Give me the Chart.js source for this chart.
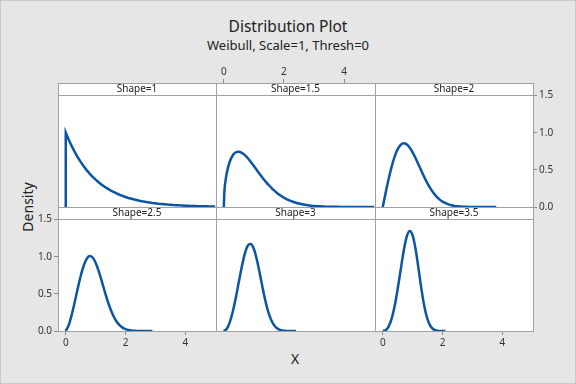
<!DOCTYPE html>
<html>
<head>
<meta charset="utf-8">
<script src="https://cdn.jsdelivr.net/npm/chart.js@4.4.1/dist/chart.umd.min.js"></script>
<style>
  body { margin: 0; }
  #fig { position: relative; width: 576px; height: 384px; background: #e6e6e6; box-shadow: inset 0 0 0 1px #c8c8c8; overflow: hidden; font-family: 'Noto Sans', sans-serif; color: #222; }
  #fig canvas { position: absolute; }
  .lbl { position: absolute; white-space: nowrap; }
</style>
</head>
<body>
<div id="fig">
  <div class="lbl" style="left:0;width:576px;top:16px;text-align:center;font-size:15.5px;line-height:20px">Distribution Plot</div>
  <div class="lbl" style="left:0;width:576px;top:36px;text-align:center;font-size:13px;line-height:18px">Weibull, Scale=1, Thresh=0</div>
  <div class="lbl" style="left:27px;top:207px;font-size:14px;transform:translate(-50%,-50%) rotate(-90deg)">Density</div>
  <div class="lbl" style="left:295px;top:358px;font-size:14px;transform:translate(-50%,-50%)">X</div>
</div>
<script>
// x grid the curves were read at
const xs = [0, 0.1, 0.2, 0.3, 0.4, 0.5, 0.6, 0.7, 0.8, 0.9, 1.0, 1.1, 1.2, 1.3, 1.4, 1.5, 1.6, 1.7, 1.8, 1.9, 2.0,
  2.1, 2.2, 2.3, 2.4, 2.5, 2.6, 2.7, 2.8, 2.9, 3.0, 3.1, 3.2, 3.3, 3.4, 3.5, 3.6, 3.7, 3.8, 3.9, 4.0,
  4.1, 4.2, 4.3, 4.4, 4.5, 4.6, 4.7, 4.8, 4.9, 5.0];
// shape 1 starts with a vertical jump at x = 0
const xsShape1 = [0].concat(xs);
// shape 1.5 rises steeply, so it gets two extra readings near 0
const xsShape15 = [0, 0.02, 0.05].concat(xs.slice(1));

const densShape1 = [0, 1.000, 0.905, 0.819, 0.741, 0.670, 0.607, 0.549, 0.497, 0.449, 0.407, 0.368, 0.333, 0.301, 0.273,
  0.247, 0.223, 0.202, 0.183, 0.165, 0.150, 0.135, 0.122, 0.111, 0.100, 0.091, 0.082, 0.074, 0.067, 0.061, 0.055,
  0.050, 0.045, 0.041, 0.037, 0.033, 0.030, 0.027, 0.025, 0.022, 0.020, 0.018, 0.017, 0.015, 0.014, 0.012, 0.011,
  0.010, 0.009, 0.008, 0.007, 0.007];
const densShape15 = [0, 0.212, 0.332, 0.460, 0.613, 0.697, 0.737, 0.745, 0.730, 0.699, 0.656, 0.606, 0.552, 0.496, 0.441, 0.388,
  0.339, 0.293, 0.251, 0.213, 0.180, 0.151, 0.125, 0.104, 0.085, 0.070, 0.057, 0.046, 0.037, 0.029, 0.023, 0.018,
  0.014, 0.011, 0.009, 0.007, 0.005, 0.004, 0.003, 0.002, 0.002, 0.001, 0.001, 0.001, 0.001, 0, 0, 0, 0, 0, 0, 0, 0];
const densShape2 = [0, 0.198, 0.384, 0.548, 0.682, 0.779, 0.837, 0.858, 0.844, 0.801, 0.736, 0.656, 0.569, 0.480,
  0.394, 0.316, 0.247, 0.189, 0.141, 0.103, 0.073, 0.051, 0.035, 0.023, 0.015, 0.010, 0.006, 0.004, 0.002, 0.001,
  0.001, 0, 0, 0, 0, 0, 0, 0, 0];
const densShape25 = [0, 0.079, 0.220, 0.391, 0.572, 0.741, 0.879, 0.972, 1.009, 0.990, 0.920, 0.811, 0.679, 0.539,
  0.407, 0.292, 0.199, 0.128, 0.078, 0.045, 0.025, 0.013, 0.006, 0.003, 0.001, 0.001, 0, 0, 0, 0];
const densShape3 = [0, 0.030, 0.119, 0.263, 0.450, 0.662, 0.870, 1.043, 1.151, 1.172, 1.104, 0.959, 0.767, 0.563,
  0.378, 0.231, 0.128, 0.064, 0.029, 0.011, 0.004, 0.001, 0, 0, 0];
const densShape35 = [0, 0.011, 0.062, 0.170, 0.340, 0.566, 0.826, 1.077, 1.267, 1.347, 1.288, 1.100, 0.832, 0.551,
  0.316, 0.155, 0.064, 0.022, 0.006, 0.001, 0, 0];

const xTicks = [0, 2, 4];
const yTicks = [0, 0.5, 1.0, 1.5];

// layout of the 3x2 panel grid (pixels)
const M = 30;
const colEdges = [58, 216, 375, 533];
const rowEdges = [83, 207, 331];
const STRIP = 12;
const X_MIN = -0.26, X_MAX = 5.03, Y_MAX = 1.67;

const panels = [
  { label: 'Shape=1',   xv: xsShape1,  yv: densShape1,  col: 0, row: 0, show: {} },
  { label: 'Shape=1.5', xv: xsShape15, yv: densShape15, col: 1, row: 0, show: { top: true } },
  { label: 'Shape=2',   xv: xs, yv: densShape2,  col: 2, row: 0, show: { right: true } },
  { label: 'Shape=2.5', xv: xs, yv: densShape25, col: 0, row: 1, show: { left: true, bottom: true } },
  { label: 'Shape=3',   xv: xs, yv: densShape3,  col: 1, row: 1, show: {} },
  { label: 'Shape=3.5', xv: xs, yv: densShape35, col: 2, row: 1, show: { bottom: true } },
];

const tickFont = { family: 'Noto Sans', size: 10 };

function axis(position, show, isX) {
  return {
    type: 'linear',
    axis: isX ? 'x' : 'y',
    position: position,
    min: isX ? X_MIN : 0,
    max: isX ? X_MAX : Y_MAX,
    afterFit: s => { if (isX) s.height = M; else s.width = M; },
    afterBuildTicks: s => { s.ticks = (isX ? xTicks : yTicks).map(v => ({ value: v })); },
    grid: { display: true, drawOnChartArea: false, drawTicks: !!show, tickLength: 4, color: '#8c8c8c' },
    border: { display: true, color: '#a0a0a0', width: 1 },
    ticks: {
      display: !!show,
      padding: position === 'top' ? 1 : 2,
      color: '#333',
      font: tickFont,
      callback: v => isX ? String(v) : v.toFixed(1),
    },
  };
}

// white panel background + the "Shape=..." strip at the top of each panel
const stripPlugin = {
  id: 'strip',
  beforeDraw(chart) {
    const a = chart.chartArea, ctx = chart.ctx;
    ctx.save();
    ctx.fillStyle = '#ffffff';
    ctx.fillRect(a.left, a.top, a.right - a.left, a.bottom - a.top);
    ctx.restore();
  },
  afterDraw(chart, args, opts) {
    const a = chart.chartArea, ctx = chart.ctx;
    ctx.save();
    ctx.strokeStyle = '#a0a0a0';
    ctx.lineWidth = 1;
    ctx.beginPath();
    ctx.moveTo(a.left, Math.round(a.top + STRIP) + 0.5);
    ctx.lineTo(a.right, Math.round(a.top + STRIP) + 0.5);
    ctx.stroke();
    ctx.fillStyle = '#222';
    ctx.font = '10px "Noto Sans"';
    ctx.textAlign = 'center';
    ctx.textBaseline = 'middle';
    ctx.fillText(opts.label, (a.left + a.right) / 2, a.top + STRIP / 2 + 0.5);
    ctx.restore();
  }
};

const fig = document.getElementById('fig');
panels.forEach(p => {
  const cv = document.createElement('canvas');
  const w = colEdges[p.col + 1] - colEdges[p.col] + 2 * M;
  const h = rowEdges[p.row + 1] - rowEdges[p.row] + 2 * M;
  cv.width = w; cv.height = h;
  cv.style.width = w + 'px'; cv.style.height = h + 'px';
  cv.style.left = (colEdges[p.col] - M) + 'px';
  cv.style.top = (rowEdges[p.row] - M) + 'px';
  fig.appendChild(cv);

  new Chart(cv, {
    type: 'line',
    data: {
      datasets: [{
        data: p.yv.map((y, i) => ({ x: p.xv[i], y: y })),
        borderColor: '#0a56a5',
        borderWidth: 2.5,
        pointRadius: 0,
        fill: false,
        tension: 0,
        cubicInterpolationMode: p.label === 'Shape=1' ? 'default' : 'monotone',
      }]
    },
    options: {
      responsive: false,
      animation: false,
      devicePixelRatio: 1,
      layout: { padding: 0 },
      plugins: {
        legend: { display: false },
        tooltip: { enabled: false },
        strip: { label: p.label },
      },
      scales: {
        x: axis('bottom', p.show.bottom, true),
        xTop: axis('top', p.show.top, true),
        y: axis('left', p.show.left, false),
        yRight: axis('right', p.show.right, false),
      }
    },
    plugins: [stripPlugin]
  });
});
</script>
</body>
</html>
